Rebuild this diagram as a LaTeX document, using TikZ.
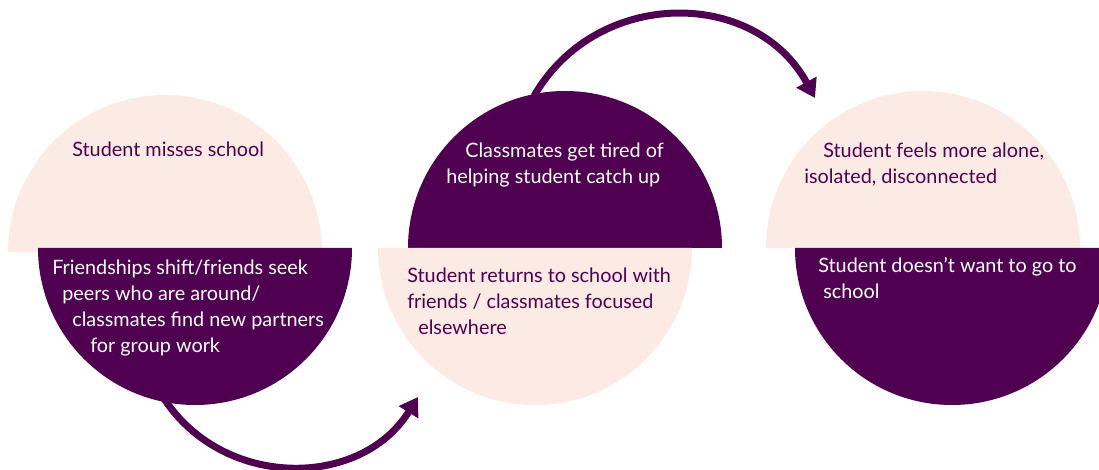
\documentclass[tikz,border=0pt]{standalone}
\usepackage{fontspec}
\setmainfont{Lato}
\usepackage{xcolor}
\usetikzlibrary{arrows.meta}

\definecolor{plum}{HTML}{500050}
\definecolor{blush}{HTML}{FCEBE4}

\begin{document}
\begin{tikzpicture}[
    dark/.style={fill=plum},
    light/.style={fill=blush},
    lbl/.style={
        anchor=base west,
        inner sep=0pt,
        align=left,
        font=\fontsize{14.1}{18.5}\selectfont
    },
    onlight/.style={lbl, text=plum},
    ondark/.style={lbl, text=white},
    arrow/.style={
        -{Triangle[length=4.5mm,width=5.5mm]},
        line width=1.75mm,
        draw=plum
    }
]
\useasboundingbox (0,0) rectangle (27.475,11.75);
\clip (0,0) rectangle (27.475,11.75);

% loose ends of the two curved arrows
\coordinate (out1) at (4.075,1.825);
\coordinate (in1) at (10.45,1.825);
\coordinate (out2) at (13.35,9.35);
\coordinate (in2) at (20.375,9.3);

\draw[arrow] (out1) to[out=-57.5, in=-122, looseness=1.1] (in1);
\draw[arrow] (out2) to[out=60, in=118.5, looseness=1.14] (in2);

% split circles
\fill[light] (0.2,5.45) arc[start angle=180, end angle=0, radius=3.925] -- cycle;
\fill[dark] (0.95,5.55) arc[start angle=180, end angle=360, radius=3.925] -- cycle;

\fill[dark] (10.2,5.55) arc[start angle=180, end angle=0, radius=3.925] -- cycle;
\fill[light] (9.45,5.55) arc[start angle=180, end angle=360, radius=3.925] -- cycle;

\fill[light] (19.15,5.55) arc[start angle=180, end angle=0, radius=3.925] -- cycle;
\fill[dark] (19.875,5.55) arc[start angle=180, end angle=360, radius=3.925] -- cycle;

% texts, placed by the baseline of their last line
\node[onlight] (miss) at (1.8,7.825) {Student misses school};
\node[ondark] (shift) at (1.3,2.93) {Friendships shift/friends seek\\
    \hspace*{0.25cm}peers who are around/\\
    \hspace*{0.5cm}classmates find new partners\\
    \hspace*{0.95cm}for group work};

\node[ondark] (tired) at (11.15,7.17) {\hspace*{0.475cm}Classmates get tired of\\
    helping student catch up};
\node[onlight] (return) at (10.175,3.39) {Student returns to school with\\
    friends / classmates focused\\
    \hspace*{0.275cm}elsewhere};

\node[onlight] (alone) at (20.1,7.17) {\hspace*{0.475cm}Student feels more alone,\\
    isolated, disconnected};
\node[ondark] (refuse) at (20.45,4.29) {Student doesn’t want to go to\\
    \hspace*{0.125cm}school};

\end{tikzpicture}
\end{document}
